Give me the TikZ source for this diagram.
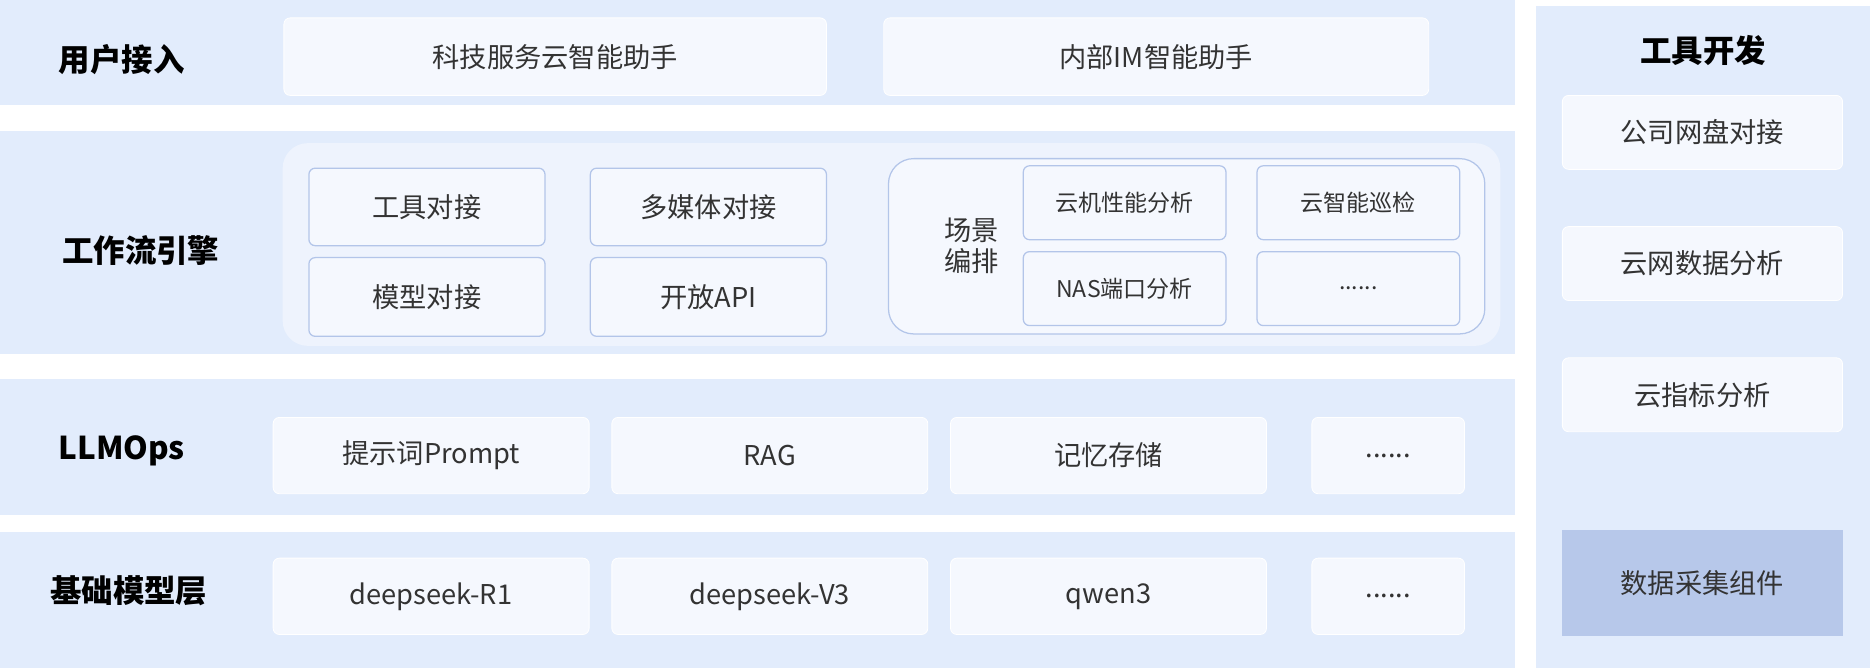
\documentclass[tikz,border=0pt]{standalone}
\usepackage{fontspec}
\setmainfont{Noto Sans CJK SC}
\definecolor{bandblue}{HTML}{E2ECFC}
\definecolor{boxfill}{HTML}{F5F8FE}
\definecolor{inner}{HTML}{EEF3FD}
\definecolor{edge}{HTML}{B3C5E9}
\definecolor{dark}{HTML}{B7C8EA}
\definecolor{txt}{HTML}{333333}
\tikzset{
    band/.style={fill=bandblue,draw=none},
    box/.style={draw=white,fill=boxfill,rounded corners=3pt,text=txt,font=\fontsize{13}{15}\selectfont},
    ebox/.style={box,draw=edge,line width=0.6pt},
    sbox/.style={ebox,font=\fontsize{11}{13}\selectfont},
    head/.style={font=\fontsize{15}{18}\selectfont\bfseries,text=black}
}
\begin{document}
\begin{tikzpicture}[x=0.02cm,y=-0.02cm]
    \useasboundingbox[fill=white] (0,0) rectangle (1568,562);

    % bands
    \fill[band] (0,0) rectangle (1270,88);
    \fill[band] (0,110) rectangle (1270,297);
    \fill[band] (0,318) rectangle (1270,432);
    \fill[band] (0,446) rectangle (1270,560);
    \fill[band] (1288,5) rectangle (1568,560);

    % user access
    \node[head] (h1) at (102,50) {用户接入};
    \node[box,minimum width=9.1cm,minimum height=1.3cm] (u1) at (465.5,47.5) {科技服务云智能助手};
    \node[box,minimum width=9.14cm,minimum height=1.3cm] (u2) at (969.5,47.5) {内部IM智能助手};

    % workflow engine
    \node[head] (h2) at (118,210) {工作流引擎};
    \fill[inner,rounded corners=12pt] (237,120) rectangle (1258,290);
    \node[ebox,minimum width=3.96cm,minimum height=1.3cm] (w1) at (358,173.5) {工具对接};
    \node[ebox,minimum width=3.96cm,minimum height=1.3cm] (w2) at (594,173.5) {多媒体对接};
    \node[ebox,minimum width=3.96cm,minimum height=1.32cm] (w3) at (358,249) {模型对接};
    \node[ebox,minimum width=3.96cm,minimum height=1.32cm] (w4) at (594,249) {开放API};
    \draw[edge,line width=0.6pt,fill=boxfill,rounded corners=12pt] (745,133) rectangle (1245,280);
    \node[box,draw=none,fill=none,align=center] (sc) at (815,206) {场景\\编排};
    \node[sbox,minimum width=3.4cm,minimum height=1.24cm] (s1) at (943,170) {云机性能分析};
    \node[sbox,minimum width=3.4cm,minimum height=1.24cm] (s2) at (1139,170) {云智能巡检};
    \node[sbox,minimum width=3.4cm,minimum height=1.24cm] (s3) at (943,242) {NAS端口分析};
    \node[sbox,minimum width=3.4cm,minimum height=1.24cm] (s4) at (1139,242) {......};

    % LLMOps
    \node[head] (h3) at (102,378) {LLMOps};
    \node[box,minimum width=5.3cm,minimum height=1.28cm] (l1) at (361.5,382) {提示词Prompt};
    \node[box,minimum width=5.3cm,minimum height=1.28cm] (l2) at (645.5,382) {RAG};
    \node[box,minimum width=5.3cm,minimum height=1.28cm] (l3) at (929.5,382) {记忆存储};
    \node[box,minimum width=2.56cm,minimum height=1.28cm] (l4) at (1164,382) {......};

    % base models
    \node[head] (h4) at (108,495) {基础模型层};
    \node[box,minimum width=5.3cm,minimum height=1.28cm] (b1) at (361.5,500) {deepseek-R1};
    \node[box,minimum width=5.3cm,minimum height=1.28cm] (b2) at (645.5,500) {deepseek-V3};
    \node[box,minimum width=5.3cm,minimum height=1.28cm] (b3) at (929.5,500) {qwen3};
    \node[box,minimum width=2.56cm,minimum height=1.28cm] (b4) at (1164,500) {......};

    % tools
    \node[head] (h5) at (1428,42) {工具开发};
    \node[box,minimum width=4.7cm,minimum height=1.24cm] (r1) at (1427.5,111) {公司网盘对接};
    \node[box,minimum width=4.7cm,minimum height=1.24cm] (r2) at (1427.5,221) {云网数据分析};
    \node[box,minimum width=4.7cm,minimum height=1.24cm] (r3) at (1427.5,331) {云指标分析};
    \node[box,fill=dark,draw=dark,rounded corners=0pt,minimum width=4.7cm,minimum height=1.76cm] (r4) at (1427.5,489) {数据采集组件};
\end{tikzpicture}
\end{document}
